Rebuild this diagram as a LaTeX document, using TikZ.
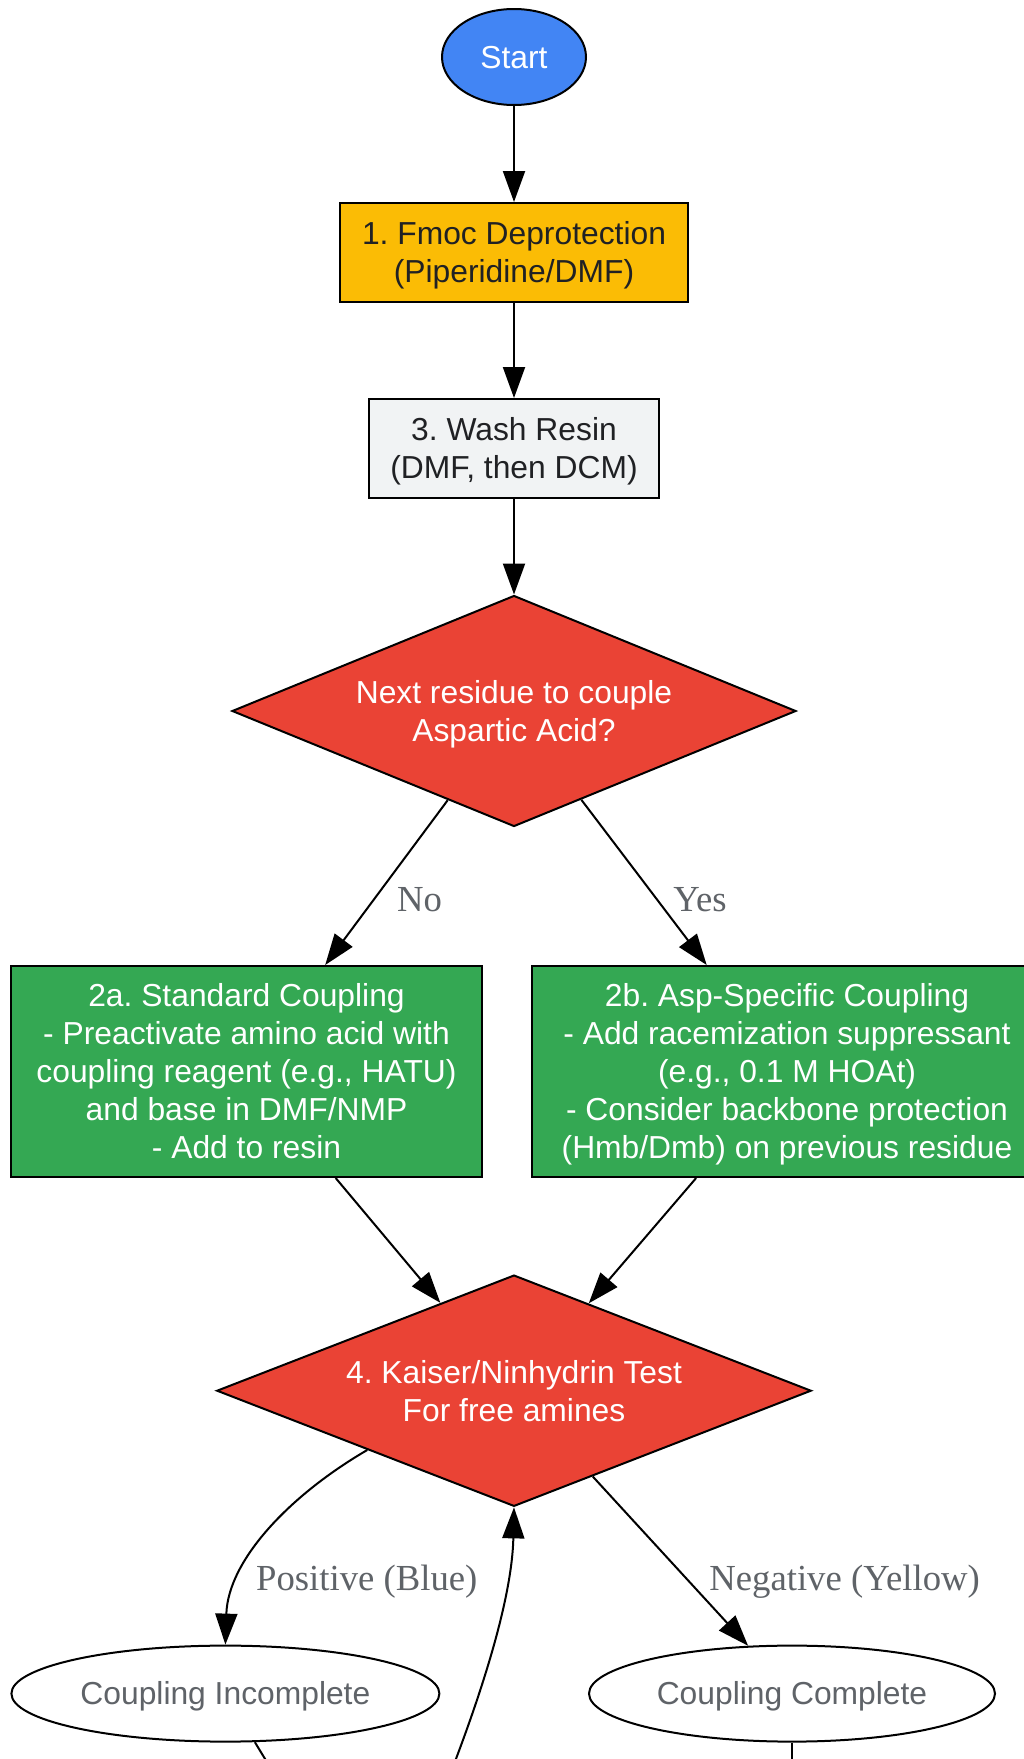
\documentclass[tikz,border=0pt]{standalone}
\usepackage{fontspec}
\setmainfont{Liberation Serif}
\setsansfont{Liberation Sans}
\usetikzlibrary{shapes.geometric,arrows.meta}
\definecolor{cblue}{HTML}{4285F4}
\definecolor{cyellow}{HTML}{FBBC05}
\definecolor{clight}{HTML}{F1F3F4}
\definecolor{cred}{HTML}{EA4335}
\definecolor{cgreen}{HTML}{34A853}
\definecolor{cdark}{HTML}{202124}
\definecolor{cgray}{HTML}{5F6368}
\frenchspacing
\newcommand{\mystrut}{\rule[-6pt]{0pt}{34.8pt}}
\begin{document}
\begin{tikzpicture}[x=1pt,y=-1pt,
  base/.style={draw=black,line width=2pt,inner sep=0pt,align=center,
    font=\sffamily\fontsize{31.8}{38}\selectfont\frenchspacing,
    execute at begin node=\mystrut, execute at end node=\mystrut},
  boxnode/.style={base,rectangle},
  oval/.style={base,ellipse},
  decision/.style={base,diamond,fill=cred,text=white},
  edge/.style={line width=2pt,-{Triangle[length=31pt,width=22pt]}},
  plain/.style={line width=2pt},
  lbl/.style={font=\rmfamily\fontsize{36.7}{44}\selectfont,text=cgray,inner sep=0pt}]
\useasboundingbox (0,0) rectangle (1024,1759);
\fill[white] (0,0) rectangle (1024,1759);
\clip (0,0) rectangle (1024,1759);

\node[oval,fill=cblue,text=white,minimum width=144pt,minimum height=96pt] (start) at (514,57) {Start};
\node[boxnode,fill=cyellow,text=cdark,minimum width=348pt,minimum height=99pt] (b1) at (514,252.5) {\mystrut 1. Fmoc Deprotection\\(Piperidine/DMF)\mystrut};
\node[boxnode,fill=clight,text=cdark,minimum width=290pt,minimum height=99pt] (b3) at (514,448.5) {\mystrut 3. Wash Resin\\(DMF, then DCM)\mystrut};
\node[decision,shape aspect=2.44,minimum width=564pt,minimum height=231pt] (d1) at (514,711) {\mystrut Next residue to couple\\Aspartic Acid?\mystrut};
\node[boxnode,fill=cgreen,text=white,minimum width=471pt,minimum height=211pt] (b2a) at (246.5,1071.5) {\mystrut 2a. Standard Coupling\\- Preactivate amino acid with\\coupling reagent (e.g., HATU)\\and base in DMF/NMP\\- Add to resin\mystrut};
\node[boxnode,fill=cgreen,text=white,minimum width=510pt,minimum height=211pt] (b2b) at (787,1071.5) {\mystrut 2b. Asp-Specific Coupling\\- Add racemization suppressant\\(e.g., 0.1 M HOAt)\\- Consider backbone protection\\(Hmb/Dmb) on previous residue\mystrut};
\node[decision,shape aspect=2.57,minimum width=594.5pt,minimum height=231.3pt] (d2) at (514,1390.7) {\mystrut 4. Kaiser/Ninhydrin Test\\For free amines\mystrut};
\node[oval,fill=white,text=cgray,minimum width=428pt,minimum height=96pt] (ci) at (225.4,1693.6) {Coupling Incomplete};
\node[oval,fill=white,text=cgray,minimum width=406pt,minimum height=96pt] (cc) at (792,1693.6) {Coupling Complete};

\coordinate (bk) at (440,1800);
\coordinate (ciout) at (290,1800);
\coordinate (ccout) at (792,1800);

\draw[edge] (start) -- (b1);
\draw[edge] (b1) -- (b3);
\draw[edge] (b3) -- (d1);
\draw[edge] (d1) -- (b2a);
\draw[edge] (d1) -- (b2b);
\draw[edge] (b2a) -- (d2);
\draw[edge] (b2b) -- (d2);
\draw[edge] (d2.202.6) .. controls (290,1495) and (228,1560) .. (ci.north);
\draw[edge] (d2) -- (cc);
\draw[edge] (bk) .. controls (480,1700) and (512,1600) .. (d2.south);
\draw[plain] (ci) -- (ciout);
\draw[plain] (cc.south) -- (ccout);

\node[lbl] (lno) at (419.5,900) {No};
\node[lbl] (lyes) at (700,900) {Yes};
\node[lbl] (lpos) at (366.8,1582) {Positive (Blue)};
\node[lbl] (lneg) at (844.6,1582) {Negative (Yellow)};
\end{tikzpicture}
\end{document}
